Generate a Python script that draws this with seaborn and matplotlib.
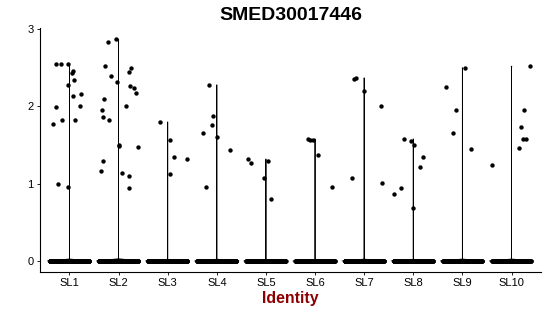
import numpy as np
import pandas as pd
import matplotlib
matplotlib.use("Agg")
import matplotlib.pyplot as plt
import seaborn as sns

# Grupos (clusters) e valores de expressao
groups = ["SL1", "SL2", "SL3", "SL4", "SL5", "SL6", "SL7", "SL8", "SL9", "SL10"]

# numero aproximado de celulas com expressao zero em cada grupo
zero_counts = [300, 300, 300, 300, 300, 300, 300, 250, 150, 80]

# valores nao nulos por grupo
vals_sl1 = [2.55, 2.55, 2.55, 2.43, 2.46, 2.34, 2.28, 2.14, 2.16, 1.99, 2.01, 1.83, 1.82, 1.77, 1.00, 0.96]
vals_sl2 = [2.84, 2.87, 2.52, 2.50, 2.45, 2.40, 2.32, 2.27, 2.24, 2.17, 2.10, 2.00, 1.96, 1.86, 1.82,
            1.50, 1.49, 1.47, 1.29, 1.16, 1.14, 1.10, 0.95]
vals_sl3 = [1.80, 1.57, 1.35, 1.32, 1.12]
vals_sl4 = [2.28, 1.88, 1.76, 1.65, 1.60, 1.43, 0.96]
vals_sl5 = [1.32, 1.27, 1.29, 1.07, 0.80]
vals_sl6 = [1.58, 1.57, 1.56, 1.37, 0.96]
vals_sl7 = [2.36, 2.37, 2.20, 2.01, 1.07, 1.01]
vals_sl8 = [1.58, 1.55, 1.50, 1.35, 1.21, 0.87, 0.94, 0.68]
vals_sl9 = [2.50, 2.25, 1.95, 1.65, 1.45]
vals_sl10 = [2.52, 1.95, 1.74, 1.58, 1.58, 1.46, 1.24]

# deslocamento horizontal (jitter) de cada ponto
jit_sl1 = [-0.27, -0.18, -0.03, 0.05, 0.08, 0.09, -0.02, 0.07, 0.24, -0.28, 0.22, -0.16, 0.12, -0.33, -0.24, -0.02]
jit_sl2 = [-0.21, -0.06, -0.28, 0.25, 0.22, -0.16, -0.03, 0.24, 0.31, 0.36, -0.29, 0.15, -0.34, -0.31, -0.19,
           0.00, 0.01, 0.39, -0.32, -0.35, 0.06, 0.22, 0.22]
jit_sl3 = [-0.15, 0.05, 0.12, 0.39, 0.04]
jit_sl4 = [-0.15, -0.08, -0.10, -0.28, 0.00, 0.27, -0.21]
jit_sl5 = [-0.37, -0.30, 0.05, -0.04, 0.11]
jit_sl6 = [-0.15, -0.10, -0.05, 0.07, 0.35]
jit_sl7 = [-0.20, -0.16, 0.00, 0.35, -0.24, 0.36]
jit_sl8 = [-0.18, -0.04, 0.02, 0.19, 0.14, -0.40, -0.25, 0.00]
jit_sl9 = [0.06, -0.34, -0.13, -0.19, 0.17]
jit_sl10 = [0.37, 0.26, 0.20, 0.23, 0.29, 0.16, -0.39]

all_vals = [vals_sl1, vals_sl2, vals_sl3, vals_sl4, vals_sl5, vals_sl6, vals_sl7, vals_sl8, vals_sl9, vals_sl10]
all_jit = [jit_sl1, jit_sl2, jit_sl3, jit_sl4, jit_sl5, jit_sl6, jit_sl7, jit_sl8, jit_sl9, jit_sl10]

# monta a tabela longa
rows = []
for i, g in enumerate(groups):
    for off in np.linspace(-0.4, 0.4, zero_counts[i]):
        rows.append((g, 0.0, i + off))
    for v, off in zip(all_vals[i], all_jit[i]):
        rows.append((g, v, i + off))
df = pd.DataFrame(rows, columns=["identity", "expr", "xpos"])

sns.set_theme(style="ticks")
plt.rcParams["font.family"] = ["Liberation Sans", "DejaVu Sans"]
plt.rcParams["text.color"] = "black"

fig = plt.figure(figsize=(5.5, 3.16), dpi=100)
ax = fig.add_axes([0.0727, 0.139, 0.9109, 0.772])

# violino (praticamente uma linha, pois quase tudo e zero)
sns.violinplot(
    data=df, x="identity", y="expr", order=groups,
    cut=0, bw_method=1e-4, density_norm="width", inner=None,
    fill=False, color="black", linewidth=0.6, width=0.9, ax=ax)

# pontos com jitter
sns.scatterplot(
    data=df, x="xpos", y="expr", color="black", s=10,
    linewidth=0, legend=False, ax=ax, zorder=3)

ax.set_xlim(-0.6, 9.6)
ax.set_ylim(-0.1435, 3.0135)
ax.set_yticks([0, 1, 2, 3])
ax.set_xticks(range(len(groups)))
ax.set_xticklabels(groups)

ax.set_title("SMED30017446", fontsize=14, fontweight="bold", color="black", pad=6)
ax.set_xlabel("Identity", fontsize=11.4, fontweight="bold", color="#8B0000", labelpad=2)
ax.set_ylabel("")

sns.despine(ax=ax)
for s in ["left", "bottom"]:
    ax.spines[s].set_linewidth(0.8)
    ax.spines[s].set_color("black")
ax.tick_params(axis="both", length=2.5, width=0.6, pad=2, labelsize=8, colors="black")
ax.grid(False)

fig.savefig("out.png", dpi=100)
